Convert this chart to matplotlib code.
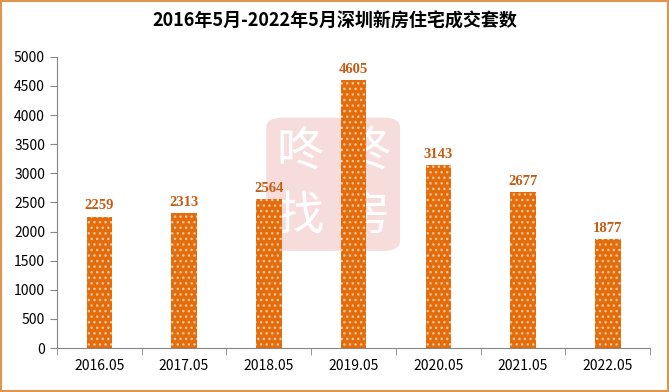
import matplotlib.pyplot as plt
from matplotlib.patches import FancyBboxPatch, Rectangle

plt.rcParams['font.family'] = ['Noto Sans CJK SC', 'DejaVu Sans']

# data
years = ['2016.05', '2017.05', '2018.05', '2019.05', '2020.05', '2021.05', '2022.05']
deals = [2259, 2313, 2564, 4605, 3143, 2677, 1877]
title = '2016年5月-2022年5月深圳新房住宅成交套数'

bar_color = '#E46C0A'
label_color = '#C55A11'

fig = plt.figure(figsize=(6.69, 3.92), dpi=100)
fig.patches.append(Rectangle((0.002, 0.003), 0.996, 0.994, transform=fig.transFigure,
                             fill=False, edgecolor='#E0954A', linewidth=1.5))

# watermark in a background axes
bg = fig.add_axes([0, 0, 1, 1], zorder=-1)
bg.set_axis_off()
bg.set_xlim(0, 1)
bg.set_ylim(0, 1)
bg.add_patch(FancyBboxPatch((0.398, 0.36), 0.2, 0.34,
                            boxstyle='round,pad=0,rounding_size=0.025',
                            facecolor='#F7DCDC', edgecolor='none'))
for (x, y, ch) in [(0.448, 0.61, '咚'), (0.548, 0.61, '咚'), (0.448, 0.445, '找'), (0.548, 0.445, '房')]:
    bg.text(x, y, ch, color='white', fontsize=34, ha='center', va='center')

ax = fig.add_axes([0.085, 0.112, 0.887, 0.743], zorder=1)
ax.patch.set_alpha(0)
x = range(len(years))
bars = ax.bar(x, deals, width=0.3, color=bar_color, edgecolor='#F8C79E',
              hatch='...', linewidth=0, zorder=2)

for i, v in enumerate(deals):
    ax.text(i, v + 70, str(v), ha='center', va='bottom', color=label_color,
            fontsize=10.5, fontweight='bold', family=['Liberation Serif'])

ax.set_xlim(-0.5, len(years) - 0.5)
ax.set_ylim(0, 5000)
ax.set_yticks(range(0, 5001, 500))
ax.set_xticks(x)
ax.set_xticklabels(years)
ax.set_xticks([i + 0.5 for i in range(-1, len(years))], minor=True)
ax.tick_params(axis='x', which='major', length=0, pad=8, labelsize=10)
ax.tick_params(axis='x', which='minor', length=5, color='#868686')
ax.tick_params(axis='y', length=5, color='#868686', labelsize=10)

for s in ['top', 'right']:
    ax.spines[s].set_visible(False)
for s in ['left', 'bottom']:
    ax.spines[s].set_color('#868686')

fig.text(0.5, 0.945, title, ha='center', va='center', fontsize=13, fontweight='bold')

fig.savefig('out.png', dpi=100)
